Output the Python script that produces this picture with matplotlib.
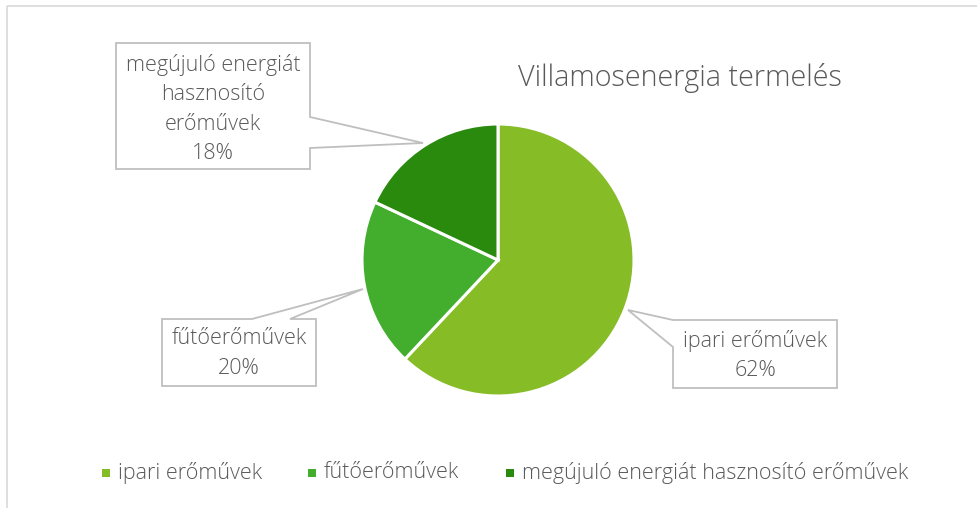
import matplotlib
matplotlib.use("Agg")
import matplotlib.pyplot as plt
from matplotlib.patches import Polygon, Rectangle

plt.rcParams['font.family'] = ['Open Sans', 'DejaVu Sans']
plt.rcParams['font.weight'] = 'light'

# ---- data ----
title = "Villamosenergia termelés"
categories = ["ipari erőművek", "fűtőerőművek", "megújuló energiát hasznosító erőművek"]
values = [62, 20, 18]
colors = ["#86BC25", "#43AE2E", "#298A0E"]
callout_lines = [["ipari erőművek"], ["fűtőerőművek"],
                 ["megújuló energiát", "hasznosító", "erőművek"]]

W, H = 978, 508
fig = plt.figure(figsize=(W / 100, H / 100), dpi=100)
ax = fig.add_axes([0, 0, 1, 1])
ax.set_xlim(0, W)
ax.set_ylim(0, H)
ax.axis('off')

def Y(y):
    return H - y

txt = "#595959"
edge = "#BFBFBF"

# chart border
ax.plot([7, 7], [Y(508), Y(6)], color="#D9D9D9", lw=1.2, solid_capstyle='butt')
ax.plot([7, 978], [Y(6), Y(6)], color="#D9D9D9", lw=1.2, solid_capstyle='butt')

# pie
ax.pie(values, colors=colors, startangle=90, counterclock=False,
       center=(498, Y(260)), radius=136,
       wedgeprops=dict(edgecolor="white", linewidth=2.2), frame=True)
ax.set_xlim(0, W)
ax.set_ylim(0, H)
ax.set_aspect('auto')
ax.axis('off')

# title
ax.text(680, Y(78), title, ha='center', va='center', fontsize=20.7, color=txt)

# callouts (box shapes with pointers, in pixel coordinates)
shapes = [
    [(673, 320), (837, 320), (837, 388), (673, 388), (673, 347), (628, 310)],
    [(162, 319), (252, 319), (363, 289), (290, 319), (316, 319), (316, 386), (162, 386)],
    [(116, 43), (310, 43), (310, 117), (423, 143), (310, 148), (310, 169), (116, 169)],
]
text_pos = [(755, 341), (239, 339), (213, 65)]
for i, pts in enumerate(shapes):
    poly = Polygon([(x, Y(y)) for x, y in pts], closed=True, facecolor="white",
                   edgecolor=edge, lw=1.3, joinstyle='miter', zorder=3)
    ax.add_patch(poly)
    lines = callout_lines[i] + [f"{values[i]}%"]
    cx, cy = text_pos[i]
    for j, ln in enumerate(lines):
        ax.text(cx, Y(cy + j * 29.5), ln, ha='center', va='center',
                fontsize=15.5, color=txt, zorder=4)

# legend
leg_x = [106, 312, 510]
for i, cat in enumerate(categories):
    ax.add_patch(Rectangle((leg_x[i] - 4, Y(473) - 4), 8, 8, facecolor=colors[i],
                           edgecolor='none', zorder=3))
    ax.text(leg_x[i] + 12, Y(473), cat, ha='left', va='center',
            fontsize=15.5, color=txt)

fig.savefig("out.png", dpi=100)
